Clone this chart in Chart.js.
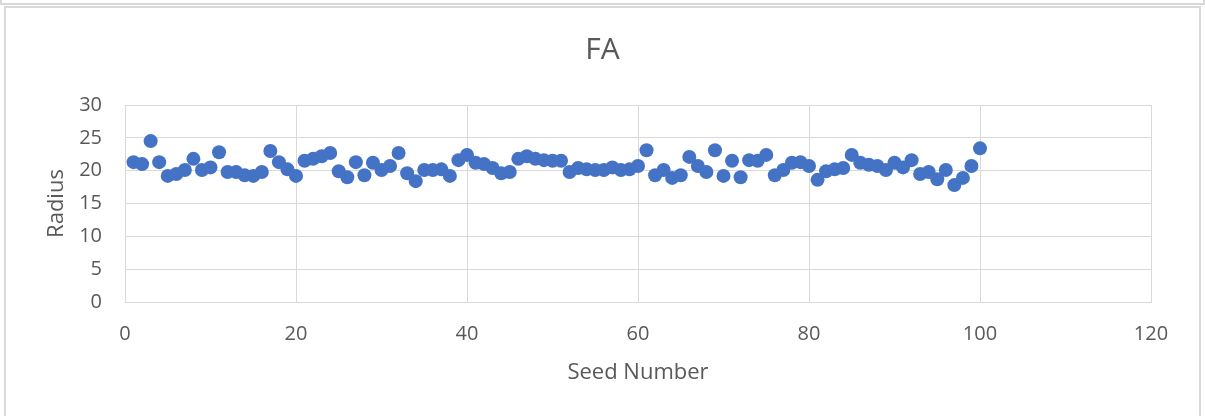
<!DOCTYPE html>
<html>
<head>
<meta charset="utf-8">
<script src="https://cdn.jsdelivr.net/npm/chart.js@4/dist/chart.umd.min.js"></script>
<style>
  body { margin: 0; background: #fff; overflow: hidden; }
  #wrap { position: relative; width: 1205px; height: 416px; }
  #prev { position: absolute; left: 0; top: -10px; width: 1201px; height: 11px; border: 2px solid #d9d9d9; }
  #box { position: absolute; left: 4px; top: 6px; width: 1193px; height: 420px; border: 2px solid #d9d9d9; }
  canvas { position: absolute; left: 0; top: 0; }
</style>
</head>
<body>
<div id="wrap">
  <div id="prev"></div>
  <div id="box"></div>
  <canvas id="myChart" width="1205" height="416"></canvas>
</div>
<script>
'use strict';

//chart data
var chartTitle = 'FA';
var xTitle = 'Seed Number';
var yTitle = 'Radius';

var seedNumbers = [];
for (var s = 1; s <= 100; s++) {
  seedNumbers.push(s);
}

var radiusValues = [
  21.3, 21.0, 24.5, 21.3, 19.2, 19.5, 20.1, 21.8, 20.1, 20.5,
  22.8, 19.8, 19.8, 19.3, 19.2, 19.8, 23.0, 21.3, 20.2, 19.2,
  21.5, 21.8, 22.2, 22.7, 19.9, 19.0, 21.3, 19.3, 21.2, 20.1,
  20.7, 22.7, 19.6, 18.4, 20.1, 20.1, 20.2, 19.2, 21.6, 22.4,
  21.2, 21.0, 20.4, 19.6, 19.8, 21.8, 22.2, 21.8, 21.6, 21.5,
  21.5, 19.8, 20.4, 20.2, 20.1, 20.1, 20.5, 20.1, 20.2, 20.7,
  23.1, 19.3, 20.1, 18.9, 19.3, 22.1, 20.7, 19.8, 23.1, 19.2,
  21.5, 19.0, 21.6, 21.5, 22.4, 19.3, 20.1, 21.2, 21.3, 20.7,
  18.6, 19.9, 20.2, 20.4, 22.4, 21.2, 20.9, 20.7, 20.1, 21.2,
  20.5, 21.6, 19.5, 19.8, 18.7, 20.1, 17.8, 18.9, 20.7, 23.4
];

var xTicks = [0, 20, 40, 60, 80, 100, 120];
var yTicks = [0, 5, 10, 15, 20, 25, 30];

var gridColor = '#d9d9d9';
var textColor = '#595959';
var fontName = "'Open Sans', sans-serif";

function makePoints() {
  var pts = [];
  for (var i = 0; i < seedNumbers.length; i++) {
    pts.push({ x: seedNumbers[i], y: radiusValues[i] });
  }
  return pts;
}

function makeChart() {
  var ctx = document.getElementById('myChart').getContext('2d');
  new Chart(ctx, {
    type: 'scatter',
    data: {
      datasets: [{
        label: yTitle,
        data: makePoints(),
        backgroundColor: '#4472c4',
        borderColor: '#4472c4',
        borderWidth: 0,
        pointRadius: 7,
        pointHoverRadius: 7
      }]
    },
    options: {
      responsive: false,
      animation: false,
      layout: { padding: 0 },
      plugins: {
        legend: { display: false },
        tooltip: { enabled: false },
        title: {
          display: true,
          text: chartTitle,
          color: textColor,
          font: { family: fontName, size: 30, weight: 'normal', lineHeight: 1.2 },
          padding: { top: 32, bottom: 37 }
        }
      },
      scales: {
        x: {
          type: 'linear',
          min: xTicks[0],
          max: xTicks[xTicks.length - 1],
          afterBuildTicks: function (scale) {
            scale.ticks = xTicks.map(function (v) { return { value: v }; });
          },
          afterFit: function (scale) { scale.height = 114; },
          grid: { color: gridColor, drawTicks: false },
          border: { color: gridColor },
          ticks: { color: textColor, padding: 20, font: { family: fontName, size: 20 } },
          title: {
            display: true,
            text: xTitle,
            color: textColor,
            font: { family: fontName, size: 22 },
            padding: { top: 0, bottom: 30 }
          }
        },
        y: {
          type: 'linear',
          min: yTicks[0],
          max: yTicks[yTicks.length - 1],
          afterBuildTicks: function (scale) {
            scale.ticks = yTicks.map(function (v) { return { value: v }; });
          },
          afterFit: function (scale) { scale.width = 125; },
          grid: { color: gridColor, drawTicks: false },
          border: { color: gridColor },
          ticks: { color: textColor, padding: 23, font: { family: fontName, size: 20 } },
          title: {
            display: true,
            text: yTitle,
            color: textColor,
            font: { family: fontName, size: 22 },
            padding: { top: 44, bottom: 0 }
          }
        },
        // empty right axis, only keeps the right margin so the title stays centred
        yRight: {
          type: 'linear',
          position: 'right',
          min: yTicks[0],
          max: yTicks[yTicks.length - 1],
          afterFit: function (scale) { scale.width = 54; },
          grid: { display: false, drawTicks: false },
          border: { display: false },
          ticks: { display: false }
        }
      }
    }
  });
}

makeChart();
</script>
</body>
</html>
